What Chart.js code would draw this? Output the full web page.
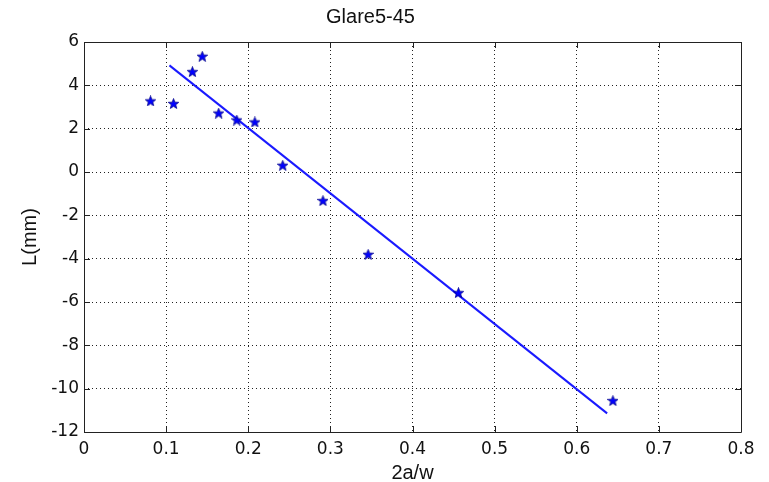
<!DOCTYPE html>
<html>
<head>
<meta charset="utf-8">
<title>Glare5-45</title>
<script src="https://cdn.jsdelivr.net/npm/chart.js@4.4.1/dist/chart.umd.min.js"></script>
<style>
    html, body { margin: 0; padding: 0; background: #fff; }
    #wrap { width: 769px; height: 482px; }
</style>
</head>
<body>
<div id="wrap"><canvas id="glareChart" width="769" height="482"></canvas></div>
<script>
// measured points (2a/w, L in mm)
const ratioValues = [0.081, 0.109, 0.132, 0.144, 0.164, 0.186, 0.208, 0.242, 0.291, 0.346, 0.456, 0.644];
const lengthValues = [3.28, 3.16, 4.63, 5.34, 2.72, 2.40, 2.31, 0.31, -1.32, -3.80, -5.57, -10.55];

// end points of the fitted line
const fitRatio = [0.104, 0.637];
const fitLength = [4.92, -11.14];

const xTickValues = [0, 0.1, 0.2, 0.3, 0.4, 0.5, 0.6, 0.7, 0.8];
const yTickValues = [-12, -10, -8, -6, -4, -2, 0, 2, 4, 6];

const pointData = ratioValues.map((r, i) => ({ x: r, y: lengthValues[i] }));
const fitData = fitRatio.map((r, i) => ({ x: r, y: fitLength[i] }));

//filled five point star used as the marker
function makeStar(size) {
    let c = document.createElement("canvas");
    c.width = size;
    c.height = size;
    let g = c.getContext("2d");
    let cx = size / 2, cy = size / 2 + 0.5;
    let outer = size / 2, inner = outer * 0.42;
    g.beginPath();
    for (let i = 0; i < 10; i++) {
        let r = i % 2 == 0 ? outer : inner;
        let a = -Math.PI / 2 + i * Math.PI / 5;
        let px = cx + r * Math.cos(a), py = cy + r * Math.sin(a);
        if (i == 0) g.moveTo(px, py); else g.lineTo(px, py);
    }
    g.closePath();
    g.fillStyle = "#0000ff";
    g.fill();
    g.strokeStyle = "#00008a";
    g.lineWidth = 0.8;
    g.stroke();
    return c;
}
const starMarker = makeStar(11);

//black frame with short inward ticks on all four sides
const frameBox = {
    id: "frameBox",
    afterDatasetsDraw(chart) {
        const { ctx, chartArea: a, scales } = chart;
        ctx.save();
        ctx.strokeStyle = "#222";
        ctx.lineWidth = 1;
        ctx.beginPath();
        ctx.rect(Math.round(a.left) + 0.5, Math.round(a.top) + 0.5,
            Math.round(a.right - a.left), Math.round(a.bottom - a.top));
        xTickValues.forEach(v => {
            let px = Math.round(scales.x.getPixelForValue(v)) + 0.5;
            ctx.moveTo(px, a.bottom); ctx.lineTo(px, a.bottom - 6);
            ctx.moveTo(px, a.top); ctx.lineTo(px, a.top + 6);
        });
        yTickValues.forEach(v => {
            let py = Math.round(scales.y.getPixelForValue(v)) + 0.5;
            ctx.moveTo(a.left, py); ctx.lineTo(a.left + 6, py);
            ctx.moveTo(a.right, py); ctx.lineTo(a.right - 6, py);
        });
        ctx.stroke();
        ctx.restore();
    }
};

const whiteBack = {
    id: "whiteBack",
    beforeDraw(chart) {
        const ctx = chart.ctx;
        ctx.save();
        ctx.fillStyle = "#fff";
        ctx.fillRect(0, 0, chart.width, chart.height);
        ctx.restore();
    }
};

const labelFont = { family: "'Liberation Sans', Arial, sans-serif", size: 20, lineHeight: 1 };
const tickFont = { family: "'DejaVu Sans', sans-serif", size: 17 };

const ctx = document.getElementById("glareChart").getContext("2d");
const glareChart = new Chart(ctx, {
    type: "scatter",
    data: {
        datasets: [
            {
                label: "fit",
                data: fitData,
                showLine: true,
                borderColor: "#1a1aff",
                borderWidth: 2,
                pointRadius: 0,
                order: 2,
            },
            {
                label: "data",
                data: pointData,
                pointStyle: starMarker,
                pointRadius: 5,
                order: 1,
            },
        ],
    },
    options: {
        responsive: false,
        animation: false,
        layout: { padding: { left: 0, right: 28, top: 0, bottom: 0 } },
        plugins: {
            legend: { display: false },
            tooltip: { enabled: false },
            title: {
                display: true,
                text: "Glare5-45",
                color: "#111",
                font: { family: "'Liberation Sans', Arial, sans-serif", size: 20, weight: "normal", lineHeight: 1.2 },
                padding: { top: 5.5, bottom: 12.5 },
            },
        },
        scales: {
            x: {
                type: "linear",
                min: 0,
                max: 0.8,
                afterFit: (scale) => { scale.height = 50; },
                afterBuildTicks: (scale) => { scale.ticks = xTickValues.map(v => ({ value: v })); },
                ticks: {
                    color: "#111",
                    font: tickFont,
                    padding: 7,
                    maxRotation: 0,
                    autoSkip: false,
                    callback: (v) => String(v),
                },
                grid: {
                    color: "#222",
                    lineWidth: 1,
                    drawTicks: false,
                },
                border: { display: false, dash: [1, 3] },
                title: {
                    display: true,
                    text: "2a/w",
                    color: "#111",
                    font: labelFont,
                    padding: { top: 0, bottom: -1.5 },
                },
            },
            y: {
                type: "linear",
                min: -12,
                max: 6,
                afterFit: (scale) => { scale.width = 84; },
                afterBuildTicks: (scale) => { scale.ticks = yTickValues.map(v => ({ value: v })); },
                ticks: {
                    color: "#111",
                    font: tickFont,
                    padding: 5,
                    autoSkip: false,
                    callback: (v) => String(v),
                },
                grid: {
                    color: "#222",
                    lineWidth: 1,
                    drawTicks: false,
                },
                border: { display: false, dash: [1, 3] },
                title: {
                    display: true,
                    text: "L(mm)",
                    color: "#111",
                    font: labelFont,
                    padding: { top: 20.5, bottom: 0 },
                },
            },
        },
    },
    plugins: [whiteBack, frameBox],
});
</script>
</body>
</html>
